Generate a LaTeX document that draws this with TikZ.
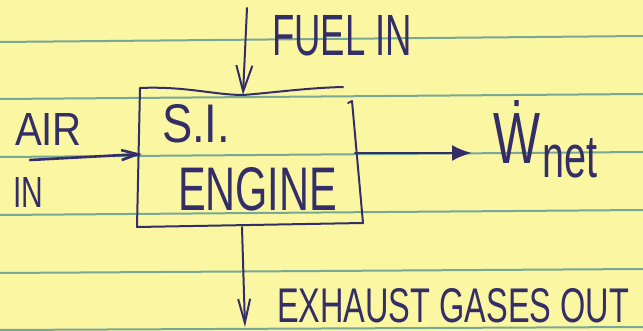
\documentclass[tikz,border=0pt]{standalone}
\usepackage{fontspec}
\setmainfont{Liberation Sans}
\usetikzlibrary{arrows.meta}
\definecolor{paper}{RGB}{251,246,162}
\definecolor{rulec}{RGB}{118,168,150}
\definecolor{ink}{RGB}{52,46,104}
\newcommand{\hw}[3]{\resizebox{#1pt}{#2pt}{#3}}
\begin{document}
\begin{tikzpicture}[x=1pt,y=-1pt,
  pen/.style={draw=ink, line width=2pt, line cap=round, line join=round},
  lbl/.style={inner sep=0pt, outer sep=0pt, text=ink, anchor=north west}]
\useasboundingbox (0,0) rectangle (643,331);
\fill[paper] (0,0) rectangle (643,331);
\foreach \l/\r in {42/36, 99/94, 157/152, 215/210, 273/269, 330/327}
  \draw[rulec, line width=2pt] (0,\l) -- (643,\r);
% engine box
\node[minimum width=222pt, minimum height=136pt, inner sep=0pt] (engine) at (250,157) {};
\draw[pen] (343,87) .. controls (305,88) and (270,93) .. (243,95)
  .. controls (215,95) and (185,86) .. (140,88) -- (137,227) -- (363,223) -- (352,101) -- (348,103);
% labels
\node[lbl] (fuel) at (272,15) {\hw{140}{40}{FUEL IN}};
\node[lbl] (air) at (15,113) {\hw{67}{32}{AIR}};
\node[lbl] (airin) at (13,177) {\hw{30}{30}{IN}};
\node[lbl] (si) at (162,104) {\hw{68}{38}{S.I.}};
\node[lbl] (eng) at (178,167) {\hw{159}{43}{ENGINE}};
\node[lbl] (wnet) at (493,100) {\hw{47}{63}{\.W}\hspace{2pt}\raisebox{-14pt}{\hw{55}{39}{net}}};
\node[lbl] (exhaust) at (277,288) {\hw{352}{34}{EXHAUST GASES OUT}};
% connectors
\coordinate (fuelsrc) at (247,8);
\coordinate (airsrc) at (30,160);
\coordinate (exend) at (245,327);
\draw[pen, -{Straight Barb[length=26pt,width=16pt]}] (fuelsrc) -- ([xshift=-7pt,yshift=-6pt]engine.north);
\draw[pen, line width=2.6pt, -{Straight Barb[length=16pt,width=10pt]}] (airsrc) -- ([xshift=3pt,yshift=3pt]engine.west);
\draw[pen, line width=2.6pt, -{Latex[length=20pt,width=16pt]}] ([xshift=-6pt,yshift=4pt]engine.east) -- ([yshift=4pt]engine.east -| wnet.west) [shorten >=21pt];
\draw[pen, -{Straight Barb[length=24pt,width=12pt]}] ([xshift=-8pt,yshift=-2pt]engine.south) -- (exend);
\end{tikzpicture}
\end{document}
